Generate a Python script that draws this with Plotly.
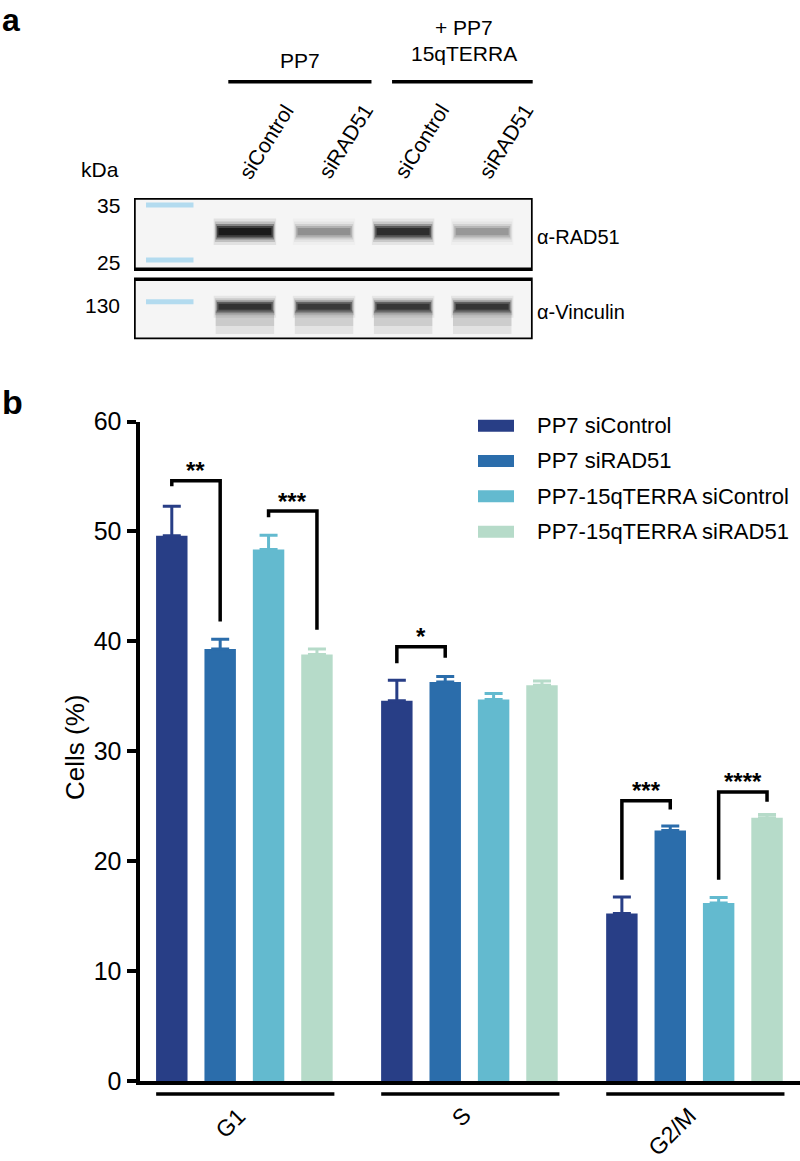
import plotly.graph_objects as go

W, H = 800, 1161


def px(x):
    return x / W


def py(y):
    return 1 - y / H


# panel b data
phases = ["G1", "S", "G2/M"]
series = ["PP7 siControl", "PP7 siRAD51", "PP7-15qTERRA siControl", "PP7-15qTERRA siRAD51"]
colors = ["#283e86", "#2b6dab", "#63bacf", "#b6dbc9"]

pp7_sicontrol = [49.6, 34.6, 15.25]
pp7_sirad51 = [39.3, 36.3, 22.8]
terra_sicontrol = [48.35, 34.7, 16.2]
terra_sirad51 = [38.8, 36.0, 23.95]

pp7_sicontrol_err = [2.7, 1.85, 1.5]
pp7_sirad51_err = [0.9, 0.5, 0.4]
terra_sicontrol_err = [1.3, 0.55, 0.5]
terra_sirad51_err = [0.5, 0.4, 0.3]

# (phase, bar a, bar b, top, left leg end, right leg end, label)
brackets = [
    (0, 0, 1, 54.6, 54.1, 41.8, "**"),
    (0, 2, 3, 51.85, 51.3, 41.05, "***"),
    (1, 0, 1, 39.5, 38.0, 38.5, "*"),
    (2, 0, 1, 25.5, 18.3, 24.7, "***"),
    (2, 2, 3, 26.3, 18.3, 25.4, "****"),
]

# panel a (western blot)
lanes = ["siControl", "siRAD51", "siControl", "siRAD51"]
rad51_intensity = [1.0, 0.3, 0.82, 0.27]
vinculin_intensity = [0.78, 0.72, 0.74, 0.76]
marker_kda = ["35", "25", "130"]

FONT = "Liberation Sans, Arial, sans-serif"

values = [pp7_sicontrol, pp7_sirad51, terra_sicontrol, terra_sirad51]
errors = [pp7_sicontrol_err, pp7_sirad51_err, terra_sicontrol_err, terra_sirad51_err]
xpos = list(range(len(phases)))

fig = go.Figure()
for name, col, v, e in zip(series, colors, values, errors):
    fig.add_trace(go.Bar(
        x=xpos, y=v, name=name, marker=dict(color=col, line=dict(width=0)),
        error_y=dict(type="data", symmetric=False, array=e, arrayminus=[0] * len(e),
                     color=col, thickness=3, width=9),
        showlegend=False,
    ))

# invisible trace to hold the blot axes
fig.add_trace(go.Scatter(x=[1, 2, 3, 4], y=[33.7] * 4, xaxis="x2", yaxis="y2",
                         mode="markers", marker=dict(opacity=0), hoverinfo="skip",
                         showlegend=False))

shapes = []
annotations = []

# bar offsets within a group
bargap, groupgap = 0.14, 0.35
nb = len(series)
step = (1 - bargap) / nb


def bar_x(c, i):
    return c - (1 - bargap) / 2 + step * (i + 0.5)


for c, a, b, top, ya, yb, lab in brackets:
    xa, xb = bar_x(c, a), bar_x(c, b)
    shapes.append(dict(type="path", xref="x", yref="y",
                       path=f"M {xa},{ya} L {xa},{top} L {xb},{top} L {xb},{yb}",
                       line=dict(color="black", width=3.5)))
    annotations.append(dict(x=(xa + xb) / 2, y=top, xref="x", yref="y", text=f"<b>{lab}</b>",
                            showarrow=False, yanchor="middle", yshift=10,
                            font=dict(size=24, color="black", family=FONT)))

# group underlines and phase labels
for c, name in zip(xpos, phases):
    shapes.append(dict(type="line", xref="x", yref="paper", x0=c - 0.392, x1=c + 0.40,
                       y0=py(1094), y1=py(1094), line=dict(color="black", width=3.5)))
    annotations.append(dict(x=c, y=py(1100), xref="x", yref="paper", text=name,
                            textangle=-45, showarrow=False, xanchor="right", yanchor="top",
                            xshift=9, font=dict(size=23, color="black", family=FONT)))

# legend
leg_y = [425.7, 461, 496.3, 531.7]
for name, col, yy in zip(series, colors, leg_y):
    shapes.append(dict(type="rect", xref="paper", yref="paper", x0=px(478), x1=px(514),
                       y0=py(yy - 6), y1=py(yy + 6), fillcolor=col, line=dict(width=0)))
    annotations.append(dict(x=px(535), y=py(yy), xref="paper", yref="paper", text=name,
                            showarrow=False, xanchor="left", yanchor="middle",
                            font=dict(size=22, color="black", family=FONT)))

annotations.append(dict(x=px(75), y=py(748), xref="paper", yref="paper", text="Cells (%)",
                        textangle=-90, showarrow=False, xanchor="center", yanchor="middle",
                        font=dict(size=26, color="black", family=FONT)))

# panel letters
annotations.append(dict(x=0, y=1, xref="paper", yref="paper", text="<b>a</b>",
                        showarrow=False, xanchor="left", yanchor="top",
                        font=dict(size=32, color="black", family=FONT)))
annotations.append(dict(x=0, y=py(402), xref="paper", yref="paper", text="<b>b</b>",
                        showarrow=False, xanchor="left", yanchor="middle",
                        font=dict(size=34, color="black", family=FONT)))

# ---- blot ----
box1 = (0, 71.3)
box2 = (81.3, 141.3)
for y0, y1 in [box1, box2]:
    shapes.append(dict(type="rect", xref="x2", yref="y2", x0=-0.402, x1=4.638, y0=y0, y1=y1,
                       fillcolor="#f5f5f5", line=dict(width=0), layer="below"))


def band(xc, yc, w, h, inten):
    for wf, hf, a in [(1.04, 2.2, 0.08), (1.0, 1.7, 0.15), (0.97, 1.3, 0.3),
                      (0.93, 0.95, 0.5), (0.88, 0.6, 0.6)]:
        shapes.append(dict(type="rect", xref="x2", yref="y2",
                           x0=xc - w * wf / 2, x1=xc + w * wf / 2,
                           y0=yc - h * hf / 2, y1=yc + h * hf / 2,
                           fillcolor=f"rgba(0,0,0,{a * inten:.3f})", line=dict(width=0)))


for i, inten in enumerate(rad51_intensity):
    band(i + 1, 33.7, 0.76, 12, inten)
for i, inten in enumerate(vinculin_intensity):
    for y0, y1, a in [(112, 136, 0.1), (113, 128, 0.12)]:
        shapes.append(dict(type="rect", xref="x2", yref="y2", x0=i + 1 - 0.37, x1=i + 1 + 0.37,
                           y0=y0, y1=y1, fillcolor=f"rgba(0,0,0,{a * inten:.3f})",
                           line=dict(width=0)))
    band(i + 1, 108.7, 0.76, 10, inten)

# marker ladder
for yc in [7, 62, 103.7]:
    shapes.append(dict(type="rect", xref="x2", yref="y2", x0=-0.25, x1=0.35,
                       y0=yc - 2.5, y1=yc + 2.5, fillcolor="#b3dbef", line=dict(width=0)))

for y0, y1 in [box1, box2]:
    shapes.append(dict(type="rect", xref="x2", yref="y2", x0=-0.402, x1=4.638, y0=y0, y1=y1,
                       line=dict(color="black", width=3.5)))

for lab, yy in zip(marker_kda, [205.7, 262.5, 305.5]):
    annotations.append(dict(x=px(122), y=py(yy), xref="paper", yref="paper", text=lab,
                            showarrow=False, xanchor="right", yanchor="middle",
                            font=dict(size=21, color="black", family=FONT)))
annotations.append(dict(x=px(100), y=py(170), xref="paper", yref="paper", text="kDa",
                        showarrow=False, xanchor="center", yanchor="middle",
                        font=dict(size=21, color="black", family=FONT)))
annotations.append(dict(x=px(535), y=py(237), xref="paper", yref="paper", text="α-RAD51",
                        showarrow=False, xanchor="left", yanchor="middle",
                        font=dict(size=20, color="black", family=FONT)))
annotations.append(dict(x=px(535), y=py(312), xref="paper", yref="paper", text="α-Vinculin",
                        showarrow=False, xanchor="left", yanchor="middle",
                        font=dict(size=20, color="black", family=FONT)))

shifts = [21, 21, 18, 23]
for i, (lab, sh) in enumerate(zip(lanes, shifts)):
    annotations.append(dict(x=i + 1, y=py(141), xref="x2", yref="paper", text=lab,
                            xshift=sh, textangle=-58, showarrow=False,
                            xanchor="center", yanchor="middle",
                            font=dict(size=21, color="black", family=FONT)))

# condition headers
for (x0, x1), texts in [((0.79, 2.6), [("PP7", 60)]),
                        ((2.86, 4.67), [("+ PP7", 28), ("15qTERRA", 53)])]:
    shapes.append(dict(type="line", xref="x2", yref="paper", x0=x0, x1=x1,
                       y0=py(81.7), y1=py(81.7), line=dict(color="black", width=3.5)))
    for t, yy in texts:
        annotations.append(dict(x=(x0 + x1) / 2, y=py(yy), xref="x2", yref="paper", text=t,
                                showarrow=False, xanchor="center", yanchor="middle",
                                font=dict(size=21, color="black", family=FONT)))

fig.update_layout(
    width=W, height=H,
    margin=dict(l=0, r=0, t=0, b=0, pad=0, autoexpand=False),
    paper_bgcolor="white", plot_bgcolor="white",
    barmode="group", bargap=bargap, bargroupgap=groupgap,
    font=dict(family=FONT, color="black"),
    xaxis=dict(domain=[px(139.5), 1], range=[-0.466, 2.469], tickvals=xpos,
               showticklabels=False, ticks="", showline=True, linewidth=4, linecolor="black",
               showgrid=False, zeroline=False, anchor="y", automargin=False),
    yaxis=dict(domain=[py(1081), py(421.5)], range=[0, 60], dtick=10, ticks="outside",
               ticklen=9, tickwidth=3.5, tickcolor="black", showline=True, linewidth=4,
               linecolor="black", showgrid=False, zeroline=False,
               tickfont=dict(size=25, color="black"), anchor="x", automargin=False),
    xaxis2=dict(domain=[px(134), px(532.7)], range=[-0.402, 4.638], visible=False,
                anchor="y2"),
    yaxis2=dict(domain=[py(339.3), py(198)], range=[141.3, 0], visible=False, anchor="x2"),
    shapes=shapes,
    annotations=annotations,
)

# drop the default page margin so the figure sits at the window's top-left corner
fig.write_html("out.html", config={"displayModeBar": False},
               post_script="document.body.style.margin='0';")
